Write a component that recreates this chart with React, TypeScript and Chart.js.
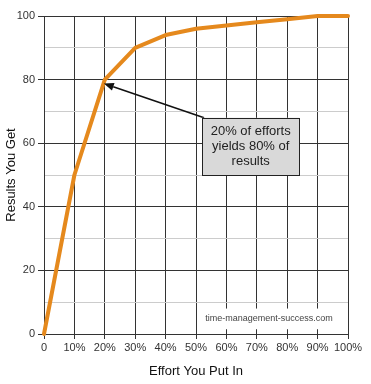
import React, { useEffect, useRef } from "react";
import { Chart, registerables } from "chart.js";

Chart.register(...registerables);

const effort = [0, 10, 20, 30, 40, 50, 60, 70, 80, 90, 100];
const results = [0, 50, 80, 90, 94, 96, 97, 98, 99, 100, 100];
const xTicks = [0, 10, 20, 30, 40, 50, 60, 70, 80, 90, 100];
const yTicks = [0, 10, 20, 30, 40, 50, 60, 70, 80, 90, 100];
const yMajorTicks = [0, 20, 40, 60, 80, 100];
const calloutLines = ["20% of efforts", "yields 80% of", "results"];
const calloutTarget = { x: 20, y: 80 };
const calloutBox = { x0: 52, x1: 84, y0: 68, y1: 50 };
const watermark = "time-management-success.com";
const watermarkBox = { x0: 51, x1: 97, y0: 8, y1: 1.5 };

const FONT = "'Liberation Sans', Arial, sans-serif";
const TEXT = "#333333";

const overlayPlugin = {
  id: "overlay",
  afterDatasetsDraw(chart: any) {
    const { ctx, scales } = chart;
    const xs = scales.x;
    const ys = scales.y;
    ctx.save();
    const wx0 = xs.getPixelForValue(watermarkBox.x0);
    const wx1 = xs.getPixelForValue(watermarkBox.x1);
    const wy0 = ys.getPixelForValue(watermarkBox.y0);
    const wy1 = ys.getPixelForValue(watermarkBox.y1);
    ctx.fillStyle = "#ffffff";
    ctx.fillRect(wx0, wy0, wx1 - wx0, wy1 - wy0);
    ctx.fillStyle = "#444444";
    ctx.font = `9px ${FONT}`;
    ctx.textAlign = "center";
    ctx.textBaseline = "middle";
    ctx.fillText(watermark, (wx0 + wx1) / 2, (wy0 + wy1) / 2);

    const bx0 = xs.getPixelForValue(calloutBox.x0);
    const bx1 = xs.getPixelForValue(calloutBox.x1);
    const by0 = ys.getPixelForValue(calloutBox.y0);
    const by1 = ys.getPixelForValue(calloutBox.y1);
    const tx = xs.getPixelForValue(calloutTarget.x) - 1;
    const ty = ys.getPixelForValue(calloutTarget.y) + 4;
    const sx = bx0 + 2;
    const sy = by0;
    const ang = Math.atan2(ty - sy, tx - sx);
    const hl = 10;
    const hw = 4;
    const bxp = tx - hl * Math.cos(ang);
    const byp = ty - hl * Math.sin(ang);
    ctx.strokeStyle = "#111111";
    ctx.lineWidth = 1.5;
    ctx.beginPath();
    ctx.moveTo(sx, sy);
    ctx.lineTo(bxp, byp);
    ctx.stroke();
    ctx.fillStyle = "#111111";
    ctx.beginPath();
    ctx.moveTo(tx, ty);
    ctx.lineTo(bxp + hw * Math.sin(ang), byp - hw * Math.cos(ang));
    ctx.lineTo(bxp - hw * Math.sin(ang), byp + hw * Math.cos(ang));
    ctx.closePath();
    ctx.fill();

    ctx.fillStyle = "#d9d9d9";
    ctx.fillRect(bx0, by0, bx1 - bx0, by1 - by0);
    ctx.strokeStyle = "#222222";
    ctx.lineWidth = 1;
    ctx.strokeRect(Math.round(bx0) + 0.5, Math.round(by0) + 0.5, Math.round(bx1 - bx0), Math.round(by1 - by0));
    ctx.fillStyle = "#222222";
    ctx.font = `13px ${FONT}`;
    const cx = (bx0 + bx1) / 2;
    const cy = (by0 + by1) / 2;
    const lh = 15;
    calloutLines.forEach((line, i) => {
      ctx.fillText(line, cx, cy + (i - (calloutLines.length - 1) / 2) * lh);
    });
    ctx.restore();
  },
};

export default function App() {
  const ref = useRef<HTMLCanvasElement>(null);
  useEffect(() => {
    if (!ref.current) return;
    const chart = new Chart(ref.current, {
      type: "line",
      data: {
        datasets: [
          {
            data: effort.map((e, i) => ({ x: e, y: results[i] })),
            borderColor: "#e5891d",
            borderWidth: 4,
            pointRadius: 0,
            tension: 0,
            clip: false as any,
            borderJoinStyle: "round",
            borderCapStyle: "round",
          },
        ],
      },
      options: {
        animation: false,
        responsive: false,
        layout: { padding: { top: 16, right: 23, left: 0, bottom: 0 } },
        plugins: { legend: { display: false }, tooltip: { enabled: false } },
        scales: {
          x: {
            type: "linear",
            min: 0,
            max: 100,
            afterFit: (s: any) => {
              s.height = 50;
            },
            afterBuildTicks: (s: any) => {
              s.ticks = xTicks.map((v) => ({ value: v }));
            },
            ticks: {
              autoSkip: false,
              padding: 2,
              color: TEXT,
              font: { family: FONT, size: 11 },
              callback: (v: any) => (v === 0 ? "0" : `${v}%`),
              maxRotation: 0,
            },
            grid: { color: "#333333", lineWidth: 1, tickLength: 5, tickColor: "#333333" },
            border: { color: "#333333", width: 1 },
            title: {
              display: true,
              text: "Effort You Put In",
              color: "#111111",
              font: { family: FONT, size: 13 },
              padding: { top: 4, bottom: 5 },
            },
          },
          y: {
            type: "linear",
            min: 0,
            max: 100,
            afterFit: (s: any) => {
              s.width = 44;
            },
            afterBuildTicks: (s: any) => {
              s.ticks = yTicks.map((v) => ({ value: v }));
            },
            ticks: {
              autoSkip: false,
              padding: 3,
              color: TEXT,
              font: { family: FONT, size: 11 },
              callback: (v: any) => (yMajorTicks.includes(v) ? String(v) : ""),
            },
            grid: {
              color: (c: any) => (yMajorTicks.includes(c.tick?.value) ? "#333333" : "#cccccc"),
              tickColor: (c: any) => (yMajorTicks.includes(c.tick?.value) ? "#333333" : "rgba(0,0,0,0)"),
              lineWidth: 1,
              tickLength: 6,
            },
            border: { color: "#333333", width: 1 },
            title: {
              display: true,
              text: "Results You Get",
              color: "#111111",
              font: { family: FONT, size: 13 },
              padding: { top: 4, bottom: 4 },
            },
          },
        },
      },
      plugins: [overlayPlugin],
    });
    return () => chart.destroy();
  }, []);
  return (
    <div style={{ position: "absolute", left: 0, top: 0, width: 371, height: 384, background: "#fff" }}>
      <canvas ref={ref} width={371} height={384} style={{ display: "block" }} />
    </div>
  );
}
